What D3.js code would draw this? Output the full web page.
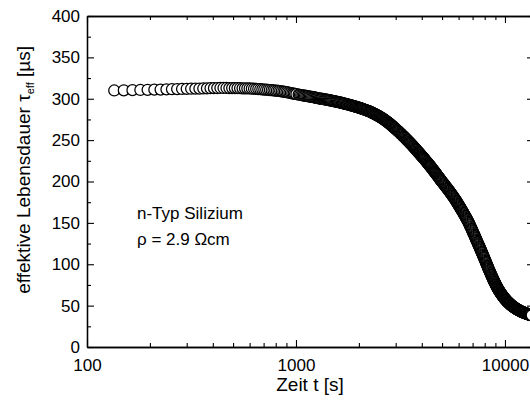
<!DOCTYPE html>
<html><head><meta charset="utf-8">
<script src="https://cdn.jsdelivr.net/npm/d3@7"></script>
<style>
body{margin:0;background:#fff}
svg{display:block}
text{font-family:"Liberation Sans",Arial,Helvetica,sans-serif;fill:#000}
</style>
</head><body>
<svg id="c" width="530" height="406"></svg>
<script>
// ---- data ----
const timeS = [
135,150,165,180,195,210,225,240,255,270,
285,300,315,330,345,360,375,390,405,420,
435,450,465,480,495,510,525,540,555,570,
585,600,615,630,645,660,675,690,705,720,
735,750,765,780,795,810,825,840,855,870,
885,900,915,930,945,960,975,990,1005,
1030,1045,1060,1075,1090,1105,1120,1135,1150,1165,
1180,1195,1210,1225,1240,1255,1270,1285,1300,1315,
1330,1345,1360,1375,1390,1405,1420,1435,1450,1465,
1480,1495,1510,1525,1540,1555,1570,1585,1600,1615,
1630,1645,1660,1675,1690,1705,1720,1735,1750,1765,
1780,1795,1810,1825,1840,1855,1870,1885,1900,1915,
1930,1945,1960,1975,1990,2005,2020,2035,2050,2065,
2080,2095,2110,2125,2140,2155,2170,2185,2200,2215,
2230,2245,2260,2275,2290,2305,2320,2335,2350,2365,
2380,2395,2410,2425,2440,2455,2470,2485,2500,2515,
2530,2545,2560,2575,2590,2605,2620,2635,2650,2665,
2680,2695,2710,2725,2740,2755,2770,2785,2800,2815,
2830,2845,2860,2875,2890,2905,2920,2935,2950,2965,
2980,2995,3010,
3030,3050,3070,3090,3110,3130,3150,3170,3190,3210,
3230,3250,3270,3290,3310,3330,3350,3370,3390,3410,
3430,3450,3470,3490,3510,3530,3550,3570,3590,3610,
3630,3650,3670,3690,3710,3730,3750,3770,3790,3810,
3830,3850,3870,3890,3910,3930,3950,3970,3990,4010,
4030,4050,4070,4090,4110,4130,4150,4170,4190,4210,
4230,4250,4270,4290,4310,4330,4350,4370,4390,4410,
4430,4450,4470,4490,4510,4530,4550,4570,4590,4610,
4630,4650,4670,4690,4710,4730,4750,4770,4790,4810,
4830,4850,4870,4890,4910,4930,4950,4970,5000,
5030,5060,5090,5120,5150,5180,5210,5240,5270,5300,
5330,5360,5390,5420,5450,5480,5510,5540,5570,5600,
5630,5660,5690,5720,5750,5780,5810,5840,5870,5900,
5930,5960,5990,6020,6050,6080,6110,6140,6170,6200,
6230,6260,6290,6320,6350,6380,6410,6440,6470,6500,
6530,6560,6590,6620,6650,6680,6710,6740,6770,6800,
6830,6860,6890,6920,6950,6980,7010,7040,7070,7100,
7130,7160,7190,7220,7250,7280,7310,7340,7370,7400,
7430,7460,7490,7520,7550,7580,7610,7640,7670,7700,
7730,7760,7790,7820,7850,7880,7910,7940,7970,8000,
8030,8060,8090,8120,8150,8180,8210,8240,8270,8300,
8330,8360,8390,8420,8450,8480,8510,8540,8570,8600,
8630,8660,8690,8720,8750,8780,8810,8840,8870,8900,
8930,8960,8990,9020,9050,9080,9110,9140,9170,9200,
9230,9260,9290,9320,9350,9380,9410,9440,9470,9500,
9530,9560,9590,9620,9650,9680,9710,9740,9770,9800,
9830,9860,9890,9920,9950,9980,10010,10040,10070,10100,
10130,10160,10190,10220,10250,10280,10310,10340,10370,10400,
10430,10460,10490,10520,10550,10580,10610,10640,10670,10700,
10730,10760,10790,10820,10850,10880,10910,10940,10970,11000,
11030,11060,11090,11120,11150,11180,11210,11240,11270,11300,
11330,11360,11390,11420,11450,11480,11510,11540,11570,11600,
11630,11660,11690,11720,11750,11780,11810,11840,11870,11900,
11930,11960,11990,12020,12050,12080,12110,12140,12170,12200,
12230,12260,12290,12320,12350,12380,12410,12440,12470,12500,
12530,12560,12590,12620,12650,12680,12710,12740,12770,12800,
12830,12860,12890,12920,12950,12980,13010,13040,13070,13100,
13130,13160,13190,13220,13250,13280,13310,13340,13370,13400,
13430
];
const tauUs = [
310.0,310.2,310.4,310.6,310.8,311.0,311.1,311.3,311.5,311.7,
311.8,312.0,312.1,312.2,312.3,312.4,312.5,312.7,312.8,312.9,
313.0,313.0,313.0,312.9,312.9,312.8,312.8,312.7,312.6,312.6,
312.5,312.4,312.2,312.1,311.9,311.7,311.5,311.3,311.1,310.9,
310.7,310.5,310.3,310.1,309.9,309.7,309.5,309.3,309.0,308.6,
308.3,307.9,307.6,307.2,306.9,306.5,306.2,305.8,305.5,
305.0,304.8,304.5,304.2,303.9,303.7,303.4,303.2,302.9,302.7,
302.4,302.2,301.9,301.6,301.3,301.1,300.8,300.6,300.3,300.1,
299.9,299.7,299.4,299.2,299.0,298.8,298.5,298.3,298.1,297.9,
297.6,297.4,297.2,297.0,296.7,296.5,296.3,296.1,295.8,295.6,
295.4,295.2,294.9,294.7,294.4,294.2,293.9,293.7,293.4,293.2,
292.9,292.7,292.4,292.2,291.9,291.7,291.4,291.2,290.9,290.7,
290.4,290.2,289.9,289.7,289.4,289.2,288.9,288.6,288.3,288.1,
287.8,287.5,287.2,287.0,286.7,286.4,286.1,285.8,285.5,285.2,
284.9,284.6,284.3,284.0,283.7,283.4,283.0,282.7,282.3,282.0,
281.6,281.3,280.9,280.6,280.2,279.9,279.5,279.1,278.7,278.3,
277.9,277.5,277.1,276.7,276.3,275.9,275.5,275.1,274.6,274.2,
273.7,273.3,272.8,272.4,271.9,271.5,271.0,270.6,270.1,269.6,
269.1,268.6,268.1,267.6,267.1,266.6,266.1,265.6,265.1,264.6,
264.1,263.6,263.1,
262.5,261.8,261.2,260.5,259.9,259.2,258.6,257.9,257.2,256.5,
255.9,255.2,254.6,253.9,253.3,252.6,252.0,251.3,250.7,250.0,
249.3,248.6,248.0,247.3,246.7,246.0,245.4,244.7,244.1,243.4,
242.8,242.1,241.4,240.7,240.1,239.4,238.8,238.1,237.5,236.8,
236.2,235.5,234.9,234.2,233.6,232.9,232.3,231.6,231.0,230.4,
229.8,229.1,228.5,227.9,227.3,226.6,226.0,225.4,224.8,224.1,
223.5,222.9,222.3,221.6,221.0,220.4,219.8,219.1,218.5,217.9,
217.3,216.6,216.0,215.4,214.8,214.1,213.5,212.9,212.3,211.6,
211.0,210.4,209.8,209.1,208.5,207.9,207.3,206.6,206.0,205.4,
204.8,204.1,203.5,202.9,202.3,201.7,201.1,200.5,199.7,
198.9,198.1,197.3,196.5,195.6,194.8,194.0,193.2,192.3,191.5,
190.7,189.9,189.1,188.3,187.4,186.6,185.8,185.0,184.1,183.3,
182.5,181.7,180.8,180.0,179.2,178.3,177.4,176.5,175.6,174.7,
173.8,172.9,172.0,171.1,170.2,169.3,168.4,167.5,166.6,165.7,
164.8,163.9,163.0,162.1,161.2,160.3,159.4,158.5,157.6,156.7,
155.8,154.9,154.0,153.1,152.2,151.2,150.1,149.1,148.0,147.0,
145.9,144.9,143.8,142.8,141.7,140.7,139.6,138.6,137.5,136.5,
135.4,134.4,133.3,132.3,131.2,130.2,129.1,128.1,127.0,126.0,
125.0,124.0,123.0,122.0,121.0,120.0,119.0,118.0,117.0,116.0,
115.0,114.0,113.0,112.0,111.0,110.0,109.0,108.0,107.0,106.0,
105.0,104.0,103.0,102.0,101.0,100.0,99.0,98.1,97.1,96.2,
95.2,94.3,93.3,92.4,91.5,90.6,89.7,88.8,87.9,87.1,
86.2,85.4,84.5,83.7,82.8,82.0,81.2,80.4,79.6,78.8,
78.0,77.3,76.5,75.8,75.0,74.3,73.6,73.0,72.3,71.7,
71.0,70.4,69.8,69.2,68.6,68.1,67.5,67.0,66.4,65.9,
65.3,64.8,64.3,63.8,63.3,62.8,62.3,61.9,61.4,61.0,
60.5,60.1,59.6,59.2,58.8,58.4,58.0,57.6,57.2,56.9,
56.5,56.2,55.8,55.5,55.1,54.8,54.5,54.2,53.9,53.6,
53.3,53.0,52.7,52.4,52.1,51.9,51.6,51.3,51.0,50.8,
50.5,50.3,50.0,49.8,49.5,49.3,49.0,48.8,48.6,48.4,
48.1,47.9,47.7,47.5,47.3,47.1,46.9,46.7,46.5,46.3,
46.1,46.0,45.8,45.6,45.4,45.3,45.1,45.0,44.8,44.7,
44.5,44.4,44.2,44.1,43.9,43.8,43.6,43.5,43.3,43.2,
43.0,42.9,42.8,42.7,42.5,42.4,42.3,42.2,42.0,41.9,
41.8,41.7,41.6,41.5,41.4,41.3,41.2,41.1,41.0,40.9,
40.8,40.7,40.6,40.5,40.4,40.3,40.2,40.1,40.0,39.9,
39.8,39.8,39.7,39.6,39.5,39.5,39.4,39.3,39.2,39.2,
39.1,39.0,38.9,38.9,38.8,38.8,38.7,38.6,38.5,38.5,
38.4
];
const xMajorTicks = [100, 1000, 10000];
const xMinorTicks = [200,300,400,500,600,700,800,900,2000,3000,4000,5000,6000,7000,8000,9000];
const yMajorTicks = [0,50,100,150,200,250,300,350,400];
const yMinorTicks = [25,75,125,175,225,275,325,375];
const xDomain = [100, 13770];
const yDomain = [0, 400];
const xTitle = "Zeit t [s]";
const annotation = ["n-Typ Silizium", "ρ = 2.9 Ωcm"];

// ---- layout ----
const L = 87, R = 534, T = 16, B = 347;
const svg = d3.select("#c");
const x = d3.scaleLog().domain(xDomain).range([L, R]);
const y = d3.scaleLinear().domain(yDomain).range([B, T]);

const FS = 17;
function styleAxis(g){
  g.selectAll("path.domain").attr("stroke","#000").attr("stroke-width",1.3);
  g.selectAll(".tick line").attr("stroke","#000").attr("stroke-width",1.1);
  g.selectAll("text").style("font-size",FS+"px").attr("fill","#000");
}
svg.append("g").attr("transform",`translate(0,${B})`)
  .call(d3.axisBottom(x).tickValues(xMajorTicks).tickSizeInner(-7).tickSizeOuter(0).tickPadding(12).tickFormat(d3.format("d"))).call(styleAxis);
svg.append("g").attr("transform",`translate(0,${B})`)
  .call(d3.axisBottom(x).tickValues(xMinorTicks).tickSizeInner(-4).tickSizeOuter(0).tickFormat("")).call(styleAxis);
svg.append("g").attr("transform",`translate(0,${T})`)
  .call(d3.axisTop(x).tickValues(xMajorTicks).tickSizeInner(-7).tickSizeOuter(0).tickFormat("")).call(styleAxis);
svg.append("g").attr("transform",`translate(0,${T})`)
  .call(d3.axisTop(x).tickValues(xMinorTicks).tickSizeInner(-4).tickSizeOuter(0).tickFormat("")).call(styleAxis);
svg.append("g").attr("transform",`translate(${L},0)`)
  .call(d3.axisLeft(y).tickValues(yMajorTicks).tickSizeInner(-7).tickSizeOuter(0).tickPadding(7).tickFormat(d3.format("d"))).call(styleAxis);
svg.append("g").attr("transform",`translate(${L},0)`)
  .call(d3.axisLeft(y).tickValues(yMinorTicks).tickSizeInner(-4).tickSizeOuter(0).tickFormat("")).call(styleAxis);
svg.append("g").attr("transform",`translate(${R},0)`)
  .call(d3.axisRight(y).tickValues(yMajorTicks).tickSizeInner(-7).tickSizeOuter(0).tickFormat("")).call(styleAxis);
svg.append("g").attr("transform",`translate(${R},0)`)
  .call(d3.axisRight(y).tickValues(yMinorTicks).tickSizeInner(-4).tickSizeOuter(0).tickFormat("")).call(styleAxis);

// data
const n = Math.min(timeS.length, tauUs.length);
const pts = timeS.slice(0, n).map((t,i)=>({t, v: tauUs[i]}));
svg.append("g").selectAll("circle").data(pts).join("circle")
  .attr("cx", d=>x(d.t)).attr("cy", d=>y(d.v)).attr("r",5.5)
  .attr("fill","#fff").attr("stroke","#000").attr("stroke-width",1.25);

// titles
svg.append("text").attr("x",310).attr("y",391).attr("text-anchor","middle")
  .style("font-size","19px").text(xTitle);

const yt = svg.append("text").attr("transform","translate(30,46) rotate(-90)")
  .attr("text-anchor","end").style("font-size","19px");
yt.append("tspan").text("effektive Lebensdauer ");
yt.append("tspan").text("τ");
yt.append("tspan").attr("dy",4).style("font-size","11px").text("eff");
yt.append("tspan").attr("dy",-4).text(" [µs]");

// annotation
annotation.forEach((s,i)=>{
  svg.append("text").attr("x",137).attr("y",219+i*26).style("font-size","17px").text(s);
});
</script>
</body></html>
